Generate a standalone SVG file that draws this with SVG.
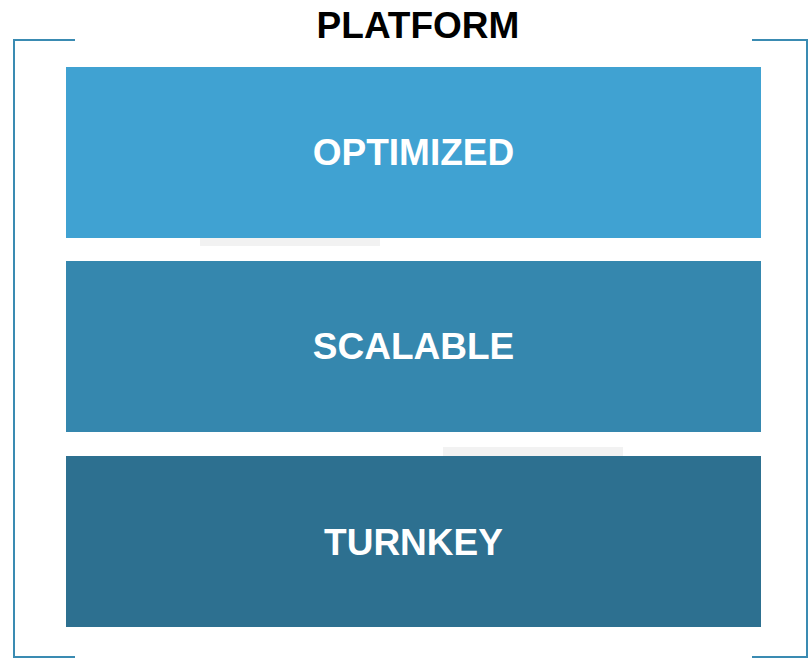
<svg xmlns="http://www.w3.org/2000/svg" width="808" height="660" viewBox="0 0 808 660">
<style>
.lbl{font-family:"Liberation Sans",Arial,sans-serif;font-weight:bold;font-size:37px;text-anchor:middle}
.w{fill:#ffffff}
.br{fill:none;stroke:#3A8BB2;stroke-width:2}
</style>
<rect width="808" height="660" fill="#ffffff"/>
<g id="brackets">
<path class="br" d="M75,40 H14 V657 H75"/>
<path class="br" d="M752,40 H807 V657 H752"/>
</g>
<g id="title"><text class="lbl" x="418" y="38" fill="#000000">PLATFORM</text></g>
<g id="connectors">
<rect x="200" y="238" width="180" height="8" fill="#F2F2F2"/>
<rect x="443" y="447" width="180" height="9" fill="#F2F2F2"/>
</g>
<g id="optimized">
<rect x="66" y="67" width="695" height="171" fill="#40A2D2"/>
<text class="lbl w" x="413.5" y="165">OPTIMIZED</text>
</g>
<g id="scalable">
<rect x="66" y="261" width="695" height="171" fill="#3587AE"/>
<text class="lbl w" x="413.5" y="359">SCALABLE</text>
</g>
<g id="turnkey">
<rect x="66" y="456" width="695" height="171" fill="#2D7090"/>
<text class="lbl w" x="413.5" y="555">TURNKEY</text>
</g>
</svg>
